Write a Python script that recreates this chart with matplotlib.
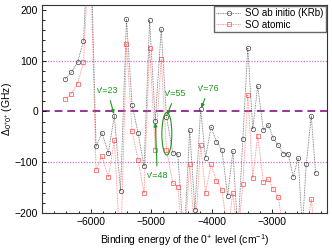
import matplotlib
matplotlib.use("Agg")
import matplotlib.pyplot as plt
from matplotlib.patches import Ellipse
import numpy as np

plt.rcParams["font.family"] = ["Liberation Sans", "DejaVu Sans"]
plt.rcParams["mathtext.fontset"] = "custom"
plt.rcParams["mathtext.rm"] = "Liberation Sans"
plt.rcParams["mathtext.it"] = "Liberation Sans:italic"

# binding energy of the 0+ levels (cm^-1)
energy = [-6419, -6320, -6216, -6118, -6014, -5911, -5813, -5708, -5610, -5507,
          -5409, -5316, -5217, -5119, -5027, -4934, -4836, -4749, -4645, -4563,
          -4460, -4366, -4280, -4186, -4104, -4013, -3924, -3833, -3740, -3653,
          -3571, -3489, -3407, -3325, -3244, -3150, -3068, -2987, -2905, -2823,
          -2741, -2659, -2577, -2507, -2442, -2360, -2288]

# SO ab initio (KRb), GHz
delta_abinitio = [64, 77, 97, 139, 400, -69, -42, -82, -8, -157,
                  182, 12, -43, -108, 180, -19, 162, -10, -81, -83,
                  -260, -37, -194, 4, -91, -30, -60, -76, -166, -78,
                  -240, -54, 126, -35, 50, -37, -26, -53, -67, -83,
                  -83, -129, -92, -230, -103, -9, -122]

# SO atomic, GHz
delta_atomic = [24, 35, 55, 97, 350, -115, -88, -130, -57, -280,
                133, -39, -96, -161, 126, -75, 103, -75, -141, -148,
                -280, -104, -250, -66, -161, -104, -137, -154, -240, -161,
                -250, -143, 33, -131, -48, -139, -133, -153, -168, -230,
                -240, -250, -240, -260, -240, -173, -250]

# labelled levels: (text, point energy, point delta, text energy, text delta)
labels = [("v'=23", -5610, -8, -5720, 41),
          ("v'=48", -4934, -19, -4900, -127),
          ("v'=55", -4749, -10, -4600, 35),
          ("v'=76", -4186, 4, -4050, 45)]

GREEN = "#1f9a1f"

fig = plt.figure(figsize=(3.32, 2.49), dpi=100)
ax = fig.add_axes([0.127, 0.145, 0.858, 0.835])

ax.axhline(0, color="#993399", lw=1.4, ls=(0, (4, 2.5)), zorder=1)
ax.axhline(100, color="#cc77cc", lw=0.9, ls=(0, (1, 1.2)), zorder=1)
ax.axhline(-100, color="#cc77cc", lw=0.9, ls=(0, (1, 1.2)), zorder=1)

ax.plot(energy, delta_abinitio, ls=(0, (1, 1)), lw=0.6, color="#666666",
        marker="o", ms=3.2, mfc="none", mec="#444444", mew=0.5,
        label="SO ab initio (KRb)", zorder=3)
ax.plot(energy, delta_atomic, ls=(0, (1, 1)), lw=0.6, color="#ff7878",
        marker="s", ms=3.0, mfc="none", mec="#ff4848", mew=0.5,
        label="SO atomic", zorder=2)

for txt, px, py, tx, ty in labels:
    ax.annotate(txt, xy=(px, py), xytext=(tx, ty), color=GREEN, fontsize=6.5,
                ha="center", va="center",
                arrowprops=dict(arrowstyle="-|>,head_length=0.35,head_width=0.15",
                                color=GREEN, lw=0.8, shrinkA=2, shrinkB=1))

ax.add_patch(Ellipse((-4743, -44), 164, 84, fill=False, ec=GREEN, lw=0.8,
                     zorder=4))

ax.set_xlim(-6800, -2100)
ax.set_ylim(-200, 210)
ax.set_xticks([-6000, -5000, -4000, -3000])
ax.set_xticks(np.arange(-6800, -2100, 200), minor=True)
ax.set_yticks([-200, -100, 0, 100, 200])
ax.set_yticks(np.arange(-200, 211, 20), minor=True)
ax.tick_params(which="both", direction="in", labelsize=7.5, width=0.6)
ax.tick_params(which="major", length=3, pad=3)
ax.tick_params(which="minor", length=1.8)
for sp in ax.spines.values():
    sp.set_linewidth(0.8)
    sp.set_color("#333333")

ax.set_xlabel(r"Binding energy of the 0$^{+}$ level (cm$^{-1}$)", fontsize=7.5,
              labelpad=4)
ax.set_ylabel(r"$\Delta_{0^{+}0^{+}}$ (GHz)", fontsize=7.5)
ax.yaxis.set_label_coords(-0.1, 0.5)

ax.legend(loc="upper right", fontsize=7, frameon=True, fancybox=False,
          edgecolor="#666666", framealpha=1, borderpad=0.2, labelspacing=0.15,
          handlelength=2.6, handletextpad=0.4, borderaxespad=0.15)

fig.savefig("out.png", dpi=100)
